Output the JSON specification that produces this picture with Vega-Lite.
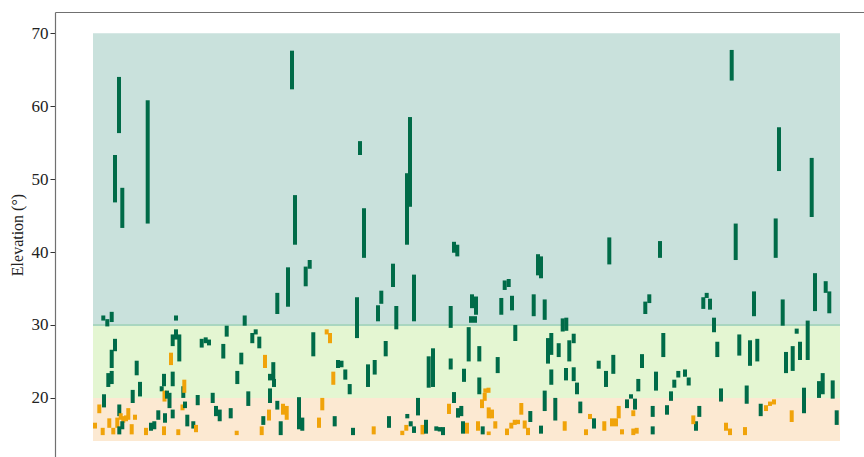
{
"$schema": "https://vega.github.io/schema/vega-lite/v6.json",
"width": 809, "height": 445,
"autosize": {"type": "none"},
"padding": {"left": 55, "top": 12, "right": 0, "bottom": 0},
"background": "white",
"config": {"view": {"stroke": null}, "font": "Liberation Serif", "scale": {"continuousPadding": 0}},
"datasets": {
"bands": [
{"zone": "low", "x0": 0, "x1": 747, "lo": 14.1, "hi": 20},
{"zone": "mid", "x0": 0, "x1": 747, "lo": 20, "hi": 30},
{"zone": "high", "x0": 0, "x1": 747, "lo": 30, "hi": 70}
],
"edge": [{"x0": 0, "x1": 747, "y": 30}],
"bars": [
{"t":10.3,"lo":30.6,"hi":31.3,"g":"G"},{"t":14.3,"lo":29.8,"hi":30.8,"g":"G"},{"t":18.7,"lo":30.4,"hi":31.8,"g":"G"},{"t":83,"lo":30.6,"hi":31.3,"g":"G"},
{"t":22,"lo":26.4,"hi":28.1,"g":"G"},{"t":18.7,"lo":24.1,"hi":26.6,"g":"G"},{"t":15.3,"lo":21.5,"hi":23.4,"g":"G"},{"t":18.7,"lo":21.9,"hi":23.7,"g":"G"},
{"t":11,"lo":18.7,"hi":20.5,"g":"G"},{"t":6.3,"lo":17.9,"hi":19.1,"g":"O"},{"t":2,"lo":15.8,"hi":16.6,"g":"O"},{"t":9.7,"lo":14.9,"hi":15.9,"g":"O"},
{"t":16.3,"lo":15.9,"hi":17.2,"g":"O"},{"t":20.3,"lo":15.0,"hi":15.9,"g":"O"},{"t":24.3,"lo":15.9,"hi":17.3,"g":"O"},{"t":26.3,"lo":17.5,"hi":19.1,"g":"G"},
{"t":27.7,"lo":17.0,"hi":17.9,"g":"O"},{"t":30.3,"lo":16.6,"hi":17.5,"g":"O"},{"t":29.3,"lo":15.7,"hi":16.8,"g":"G"},{"t":26.3,"lo":15.0,"hi":16.1,"g":"G"},
{"t":35.3,"lo":17.0,"hi":18.6,"g":"O"},{"t":33,"lo":16.8,"hi":17.6,"g":"O"},{"t":42,"lo":17.0,"hi":17.7,"g":"O"},{"t":38.7,"lo":15.0,"hi":16.4,"g":"O"},
{"t":39.7,"lo":19.3,"hi":21.1,"g":"G"},{"t":43.7,"lo":23.1,"hi":25.1,"g":"G"},{"t":47,"lo":20.2,"hi":22.2,"g":"G"},{"t":53,"lo":14.9,"hi":15.9,"g":"O"},
{"t":58,"lo":15.5,"hi":16.6,"g":"G"},{"t":61.3,"lo":15.7,"hi":16.8,"g":"G"},{"t":65.3,"lo":17.0,"hi":18.3,"g":"G"},{"t":68.7,"lo":20.9,"hi":21.6,"g":"G"},
{"t":71,"lo":21.6,"hi":23.3,"g":"G"},{"t":71.5,"lo":19.5,"hi":21.0,"g":"O"},{"t":74,"lo":19.9,"hi":21.0,"g":"G"},{"t":76.5,"lo":18.6,"hi":20.7,"g":"G"},
{"t":72,"lo":16.6,"hi":17.9,"g":"G"},{"t":71,"lo":14.9,"hi":16.1,"g":"O"},{"t":79.7,"lo":21.6,"hi":23.6,"g":"G"},{"t":79.7,"lo":17.2,"hi":18.4,"g":"G"},
{"t":78,"lo":24.5,"hi":26.2,"g":"O"},{"t":79.7,"lo":27.1,"hi":28.7,"g":"G"},{"t":83,"lo":28.0,"hi":29.4,"g":"G"},{"t":86.3,"lo":25.0,"hi":28.7,"g":"G"},
{"t":85.3,"lo":14.9,"hi":15.7,"g":"O"},{"t":90.3,"lo":20.0,"hi":21.6,"g":"G"},{"t":91.3,"lo":20.7,"hi":22.5,"g":"O"},{"t":89.5,"lo":18.3,"hi":19.1,"g":"O"},
{"t":92,"lo":18.6,"hi":19.5,"g":"G"},{"t":94.3,"lo":16.1,"hi":17.7,"g":"G"},{"t":100.3,"lo":15.8,"hi":16.8,"g":"G"},{"t":103,"lo":15.3,"hi":16.3,"g":"O"},
{"t":104.7,"lo":19.0,"hi":20.4,"g":"G"},{"t":108.7,"lo":26.9,"hi":28.1,"g":"G"},{"t":112.7,"lo":27.5,"hi":28.3,"g":"G"},{"t":116,"lo":27.2,"hi":28.0,"g":"G"},
{"t":119.7,"lo":19.3,"hi":20.7,"g":"G"},{"t":123,"lo":17.5,"hi":18.9,"g":"G"},
{"t":26,"lo":56.3,"hi":64.0,"g":"G"},{"t":22,"lo":46.8,"hi":53.3,"g":"G"},{"t":29.3,"lo":43.3,"hi":48.8,"g":"G"},{"t":54.7,"lo":43.9,"hi":60.8,"g":"G"},
{"t":199,"lo":62.3,"hi":67.6,"g":"G"},{"t":202,"lo":41.0,"hi":47.8,"g":"G"},{"t":195,"lo":32.5,"hi":37.9,"g":"G"},{"t":184.3,"lo":31.5,"hi":34.4,"g":"G"},
{"t":212.7,"lo":35.3,"hi":38.0,"g":"G"},{"t":216.7,"lo":37.7,"hi":38.9,"g":"G"},{"t":151.7,"lo":29.9,"hi":31.3,"g":"G"},{"t":133.7,"lo":28.4,"hi":29.9,"g":"G"},
{"t":159.3,"lo":27.5,"hi":28.9,"g":"G"},{"t":162.7,"lo":28.7,"hi":29.4,"g":"G"},{"t":166.3,"lo":26.8,"hi":28.4,"g":"G"},{"t":130.3,"lo":25.4,"hi":27.4,"g":"G"},
{"t":148.3,"lo":24.6,"hi":26.2,"g":"G"},{"t":172,"lo":24.1,"hi":25.9,"g":"O"},{"t":180.3,"lo":22.5,"hi":24.9,"g":"G"},{"t":177,"lo":22.4,"hi":23.3,"g":"G"},
{"t":181,"lo":21.5,"hi":22.6,"g":"G"},{"t":144.3,"lo":21.9,"hi":23.7,"g":"G"},{"t":220.3,"lo":25.7,"hi":29.0,"g":"G"},{"t":233.7,"lo":28.7,"hi":29.4,"g":"O"},
{"t":237,"lo":27.5,"hi":28.9,"g":"O"},{"t":245,"lo":24.1,"hi":25.2,"g":"G"},{"t":240.3,"lo":21.8,"hi":23.6,"g":"O"},{"t":126.7,"lo":16.8,"hi":18.4,"g":"G"},
{"t":137.7,"lo":17.2,"hi":18.6,"g":"G"},{"t":143.7,"lo":14.9,"hi":15.5,"g":"O"},{"t":155.3,"lo":18.9,"hi":20.9,"g":"G"},{"t":168.7,"lo":14.9,"hi":16.1,"g":"O"},
{"t":170.3,"lo":16.3,"hi":17.5,"g":"G"},{"t":176,"lo":16.9,"hi":18.4,"g":"O"},{"t":177,"lo":19.3,"hi":21.3,"g":"G"},{"t":184.3,"lo":18.4,"hi":19.6,"g":"G"},
{"t":187.7,"lo":14.9,"hi":16.8,"g":"G"},{"t":190,"lo":17.7,"hi":19.2,"g":"O"},{"t":193.7,"lo":17.0,"hi":18.9,"g":"O"},{"t":206,"lo":15.7,"hi":20.1,"g":"G"},
{"t":209.3,"lo":15.5,"hi":17.3,"g":"G"},{"t":226,"lo":15.9,"hi":17.3,"g":"O"},{"t":229.3,"lo":18.3,"hi":20.0,"g":"O"},{"t":241.7,"lo":16.1,"hi":17.5,"g":"G"},
{"t":271,"lo":39.2,"hi":46.0,"g":"G"},{"t":314,"lo":41.0,"hi":50.8,"g":"G"},{"t":317,"lo":46.2,"hi":58.5,"g":"G"},{"t":267,"lo":53.3,"hi":55.2,"g":"G"},
{"t":361,"lo":39.9,"hi":41.4,"g":"G"},{"t":364.3,"lo":39.4,"hi":41.0,"g":"G"},{"t":300,"lo":35.2,"hi":38.4,"g":"G"},{"t":288.3,"lo":32.9,"hi":34.7,"g":"G"},
{"t":285,"lo":30.5,"hi":32.7,"g":"G"},{"t":264,"lo":28.2,"hi":33.8,"g":"G"},{"t":303.3,"lo":29.4,"hi":32.6,"g":"G"},{"t":321,"lo":30.5,"hi":36.9,"g":"G"},
{"t":357.7,"lo":29.6,"hi":32.6,"g":"G"},{"t":292.7,"lo":25.7,"hi":27.8,"g":"G"},{"t":248.5,"lo":24.2,"hi":25.1,"g":"G"},{"t":252.3,"lo":22.5,"hi":23.9,"g":"G"},
{"t":256.7,"lo":20.5,"hi":21.9,"g":"G"},{"t":275,"lo":21.5,"hi":24.6,"g":"G"},{"t":281.7,"lo":23.2,"hi":25.2,"g":"G"},{"t":335.7,"lo":21.4,"hi":25.7,"g":"G"},
{"t":340,"lo":21.5,"hi":26.8,"g":"G"},{"t":357.7,"lo":23.9,"hi":25.4,"g":"G"},{"t":371,"lo":22.2,"hi":24.0,"g":"G"},{"t":361,"lo":19.3,"hi":20.8,"g":"G"},
{"t":325,"lo":17.6,"hi":20.0,"g":"G"},{"t":356,"lo":17.8,"hi":19.2,"g":"O"},{"t":365,"lo":17.3,"hi":18.6,"g":"G"},{"t":368.3,"lo":17.5,"hi":18.9,"g":"G"},
{"t":260,"lo":14.9,"hi":15.9,"g":"G"},{"t":280.7,"lo":15.0,"hi":16.1,"g":"O"},{"t":296,"lo":15.9,"hi":17.5,"g":"G"},{"t":309.3,"lo":14.9,"hi":15.5,"g":"O"},
{"t":313.3,"lo":15.5,"hi":16.3,"g":"O"},{"t":314.3,"lo":17.2,"hi":17.8,"g":"G"},{"t":317.7,"lo":16.1,"hi":16.8,"g":"G"},{"t":321,"lo":15.2,"hi":16.1,"g":"G"},
{"t":329.5,"lo":15.0,"hi":16.3,"g":"O"},{"t":333,"lo":15.1,"hi":17.0,"g":"G"},{"t":343.3,"lo":15.5,"hi":16.1,"g":"G"},{"t":346.7,"lo":15.4,"hi":16.0,"g":"G"},
{"t":350,"lo":14.9,"hi":16.0,"g":"G"},
{"t":445,"lo":36.8,"hi":39.7,"g":"G"},{"t":448,"lo":36.4,"hi":39.4,"g":"G"},{"t":411.7,"lo":34.8,"hi":36.1,"g":"G"},{"t":415.7,"lo":35.2,"hi":36.3,"g":"G"},
{"t":379,"lo":32.3,"hi":34.2,"g":"G"},{"t":383,"lo":31.4,"hi":33.9,"g":"G"},{"t":378,"lo":30.3,"hi":31.2,"g":"G"},{"t":382,"lo":30.3,"hi":31.2,"g":"G"},
{"t":408.3,"lo":31.4,"hi":33.7,"g":"G"},{"t":419,"lo":32.0,"hi":34.0,"g":"G"},{"t":440.7,"lo":31.2,"hi":34.2,"g":"G"},{"t":451.7,"lo":30.7,"hi":33.5,"g":"G"},
{"t":469.7,"lo":29.1,"hi":30.9,"g":"G"},{"t":473.3,"lo":29.2,"hi":31.0,"g":"G"},{"t":375.7,"lo":25.0,"hi":29.7,"g":"G"},{"t":422.3,"lo":27.8,"hi":30.0,"g":"G"},
{"t":386.3,"lo":25.0,"hi":27.1,"g":"G"},{"t":404.7,"lo":23.4,"hi":25.6,"g":"G"},{"t":386.3,"lo":20.5,"hi":22.8,"g":"G"},{"t":455,"lo":24.7,"hi":28.2,"g":"G"},
{"t":458.3,"lo":25.9,"hi":28.9,"g":"G"},{"t":465.7,"lo":25.6,"hi":27.5,"g":"G"},{"t":476.3,"lo":25.0,"hi":27.9,"g":"G"},{"t":480.7,"lo":27.5,"hi":28.8,"g":"G"},
{"t":458.3,"lo":21.8,"hi":23.9,"g":"G"},{"t":473,"lo":22.4,"hi":24.1,"g":"G"},{"t":480.7,"lo":22.3,"hi":24.2,"g":"G"},{"t":484,"lo":20.5,"hi":22.1,"g":"G"},
{"t":487.3,"lo":17.9,"hi":19.5,"g":"G"},{"t":451.7,"lo":18.2,"hi":21.0,"g":"G"},{"t":462.3,"lo":16.9,"hi":20.0,"g":"G"},
{"t":392.3,"lo":20.7,"hi":21.3,"g":"O"},{"t":395.5,"lo":20.7,"hi":21.4,"g":"O"},{"t":391.7,"lo":19.6,"hi":20.7,"g":"O"},{"t":389,"lo":18.6,"hi":19.8,"g":"O"},
{"t":395.7,"lo":17.2,"hi":18.7,"g":"O"},{"t":399,"lo":17.2,"hi":18.4,"g":"O"},{"t":428.3,"lo":17.7,"hi":19.3,"g":"O"},{"t":385,"lo":15.5,"hi":16.8,"g":"O"},
{"t":374,"lo":15.1,"hi":16.6,"g":"O"},{"t":395.7,"lo":14.9,"hi":15.4,"g":"O"},{"t":402.3,"lo":15.8,"hi":16.8,"g":"O"},{"t":414,"lo":14.9,"hi":15.8,"g":"O"},
{"t":418.3,"lo":15.8,"hi":16.6,"g":"O"},{"t":421.7,"lo":16.3,"hi":17.0,"g":"O"},{"t":425,"lo":16.4,"hi":17.0,"g":"O"},{"t":431.7,"lo":15.8,"hi":16.9,"g":"O"},
{"t":435,"lo":14.9,"hi":15.9,"g":"O"},{"t":471.7,"lo":15.5,"hi":16.8,"g":"O"},{"t":493,"lo":14.9,"hi":15.7,"g":"O"},
{"t":370,"lo":15.1,"hi":16.8,"g":"G"},{"t":389.7,"lo":15.0,"hi":16.1,"g":"G"},{"t":437.3,"lo":16.7,"hi":18.2,"g":"G"},{"t":448,"lo":15.1,"hi":16.2,"g":"G"},
{"t":516.3,"lo":38.3,"hi":42.0,"g":"G"},{"t":567,"lo":39.2,"hi":41.5,"g":"G"},{"t":556.3,"lo":33.0,"hi":34.2,"g":"G"},{"t":552.3,"lo":31.5,"hi":33.2,"g":"G"},
{"t":610.3,"lo":32.2,"hi":33.8,"g":"G"},{"t":613.7,"lo":33.7,"hi":34.4,"g":"G"},{"t":617,"lo":32.1,"hi":33.6,"g":"G"},{"t":570.3,"lo":25.6,"hi":28.9,"g":"G"},
{"t":505.7,"lo":24.0,"hi":25.1,"g":"G"},{"t":520.3,"lo":23.3,"hi":25.9,"g":"G"},{"t":513,"lo":21.5,"hi":23.7,"g":"G"},{"t":549,"lo":24.1,"hi":26.0,"g":"G"},
{"t":545.3,"lo":20.9,"hi":22.6,"g":"G"},{"t":563,"lo":21.0,"hi":23.6,"g":"G"},{"t":581.3,"lo":21.4,"hi":22.5,"g":"G"},{"t":585.3,"lo":22.8,"hi":23.7,"g":"G"},
{"t":592,"lo":22.9,"hi":23.9,"g":"G"},{"t":595.7,"lo":21.7,"hi":22.8,"g":"G"},{"t":578,"lo":19.6,"hi":20.9,"g":"G"},{"t":538,"lo":19.9,"hi":20.5,"g":"G"},
{"t":534,"lo":18.6,"hi":19.8,"g":"G"},{"t":542,"lo":18.4,"hi":19.9,"g":"G"},{"t":559.7,"lo":17.4,"hi":18.9,"g":"G"},{"t":574,"lo":17.7,"hi":19.0,"g":"G"},
{"t":606.3,"lo":17.4,"hi":18.9,"g":"G"},{"t":603,"lo":15.5,"hi":16.8,"g":"G"},{"t":600.3,"lo":16.4,"hi":17.6,"g":"O"},{"t":559.7,"lo":15.0,"hi":16.1,"g":"G"},
{"t":497,"lo":17.1,"hi":17.8,"g":"O"},{"t":501,"lo":15.8,"hi":17.2,"g":"G"},{"t":511.3,"lo":15.5,"hi":16.8,"g":"O"},{"t":519,"lo":16.1,"hi":17.2,"g":"O"},
{"t":523,"lo":16.1,"hi":17.2,"g":"O"},{"t":525.7,"lo":17.2,"hi":18.9,"g":"O"},{"t":529,"lo":15.0,"hi":15.7,"g":"O"},{"t":540.3,"lo":14.9,"hi":15.8,"g":"O"},
{"t":543.7,"lo":15.1,"hi":15.9,"g":"O"},{"t":540.3,"lo":17.5,"hi":18.3,"g":"O"},
{"t":621,"lo":29.0,"hi":31.0,"g":"G"},{"t":661,"lo":31.2,"hi":34.6,"g":"G"},{"t":689.7,"lo":29.9,"hi":33.5,"g":"G"},{"t":722,"lo":31.9,"hi":37.1,"g":"G"},
{"t":732.7,"lo":34.4,"hi":36.0,"g":"G"},{"t":736.3,"lo":31.6,"hi":34.6,"g":"G"},{"t":703.7,"lo":28.8,"hi":29.5,"g":"G"},{"t":714.7,"lo":25.2,"hi":30.6,"g":"G"},
{"t":624.3,"lo":25.6,"hi":27.7,"g":"G"},{"t":646.3,"lo":25.8,"hi":28.7,"g":"G"},{"t":657,"lo":24.4,"hi":27.9,"g":"G"},{"t":664.3,"lo":25.0,"hi":28.1,"g":"G"},
{"t":693,"lo":23.4,"hi":26.3,"g":"G"},{"t":699.7,"lo":23.7,"hi":27.1,"g":"G"},{"t":707,"lo":25.2,"hi":27.7,"g":"G"},{"t":628,"lo":19.5,"hi":21.3,"g":"G"},
{"t":653.7,"lo":19.2,"hi":21.7,"g":"G"},{"t":667.7,"lo":17.5,"hi":19.2,"g":"G"},{"t":711,"lo":17.9,"hi":21.4,"g":"G"},{"t":726,"lo":20.0,"hi":22.3,"g":"G"},
{"t":729.7,"lo":20.5,"hi":23.4,"g":"G"},{"t":739.7,"lo":19.9,"hi":22.4,"g":"G"},{"t":743.7,"lo":16.3,"hi":18.3,"g":"G"},
{"t":673,"lo":18.2,"hi":19.0,"g":"O"},{"t":677,"lo":18.9,"hi":19.5,"g":"O"},{"t":681,"lo":19.1,"hi":19.8,"g":"O"},{"t":698.7,"lo":16.7,"hi":18.3,"g":"O"},
{"t":633,"lo":15.5,"hi":16.6,"g":"O"},{"t":637,"lo":14.9,"hi":15.8,"g":"O"},{"t":652,"lo":14.9,"hi":16.0,"g":"O"},
{"t":638.7,"lo":63.5,"hi":67.7,"g":"G"},{"t":642.7,"lo":38.9,"hi":43.9,"g":"G"},{"t":686,"lo":51.1,"hi":57.1,"g":"G"},{"t":682.7,"lo":39.2,"hi":44.6,"g":"G"},
{"t":718.7,"lo":44.8,"hi":52.9,"g":"G"}
]
},
"layer": [
{
"data": {"name": "bands"},
"mark": {"type": "rect"},
"encoding": {
"x": {"field": "x0", "type": "quantitative", "scale": {"domain": [-38, 771], "nice": false, "zero": false, "padding": 0},
"axis": {"orient": "top", "labels": false, "ticks": false, "grid": false, "domainColor": "#707070", "domainWidth": 1.2, "title": null}, "title": null},
"x2": {"field": "x1"},
"y": {"field": "lo", "type": "quantitative", "scale": {"domain": [11.9, 72.9], "nice": false, "zero": false, "padding": 0},
"title": "Elevation (°)",
"axis": {"values": [20, 30, 40, 50, 60, 70], "grid": false, "domainColor": "#707070", "domainWidth": 1.2, "tickColor": "#333", "tickSize": 5,
"labelFont": "Liberation Serif", "labelFontSize": 17, "labelColor": "#222", "labelPadding": 2,
"titleFont": "Liberation Serif", "titleFontSize": 16, "titleFontWeight": "normal", "titleColor": "#222", "titlePadding": 6}},
"y2": {"field": "hi"},
"color": {"field": "zone", "type": "nominal", "scale": {"domain": ["low", "mid", "high"], "range": ["#fce9d2", "#e4f6d2", "#c9e1dc"]}, "legend": null}
}
},
{
"data": {"name": "edge"},
"mark": {"type": "rule", "color": "#a9d6c0", "strokeWidth": 2},
"encoding": {
"x": {"field": "x0", "type": "quantitative", "title": null},
"x2": {"field": "x1"},
"y": {"field": "y", "type": "quantitative", "title": "Elevation (°)"}
}
},
{
"data": {"name": "bars"},
"mark": {"type": "bar", "size": 4},
"encoding": {
"x": {"field": "t", "type": "quantitative", "title": null},
"y": {"field": "lo", "type": "quantitative", "title": "Elevation (°)"},
"y2": {"field": "hi"},
"color": {"field": "g", "type": "nominal", "scale": {"domain": ["G", "O"], "range": ["#006b48", "#f0a30a"]}, "legend": null}
}
}
],
"resolve": {"scale": {"color": "independent"}}
}
